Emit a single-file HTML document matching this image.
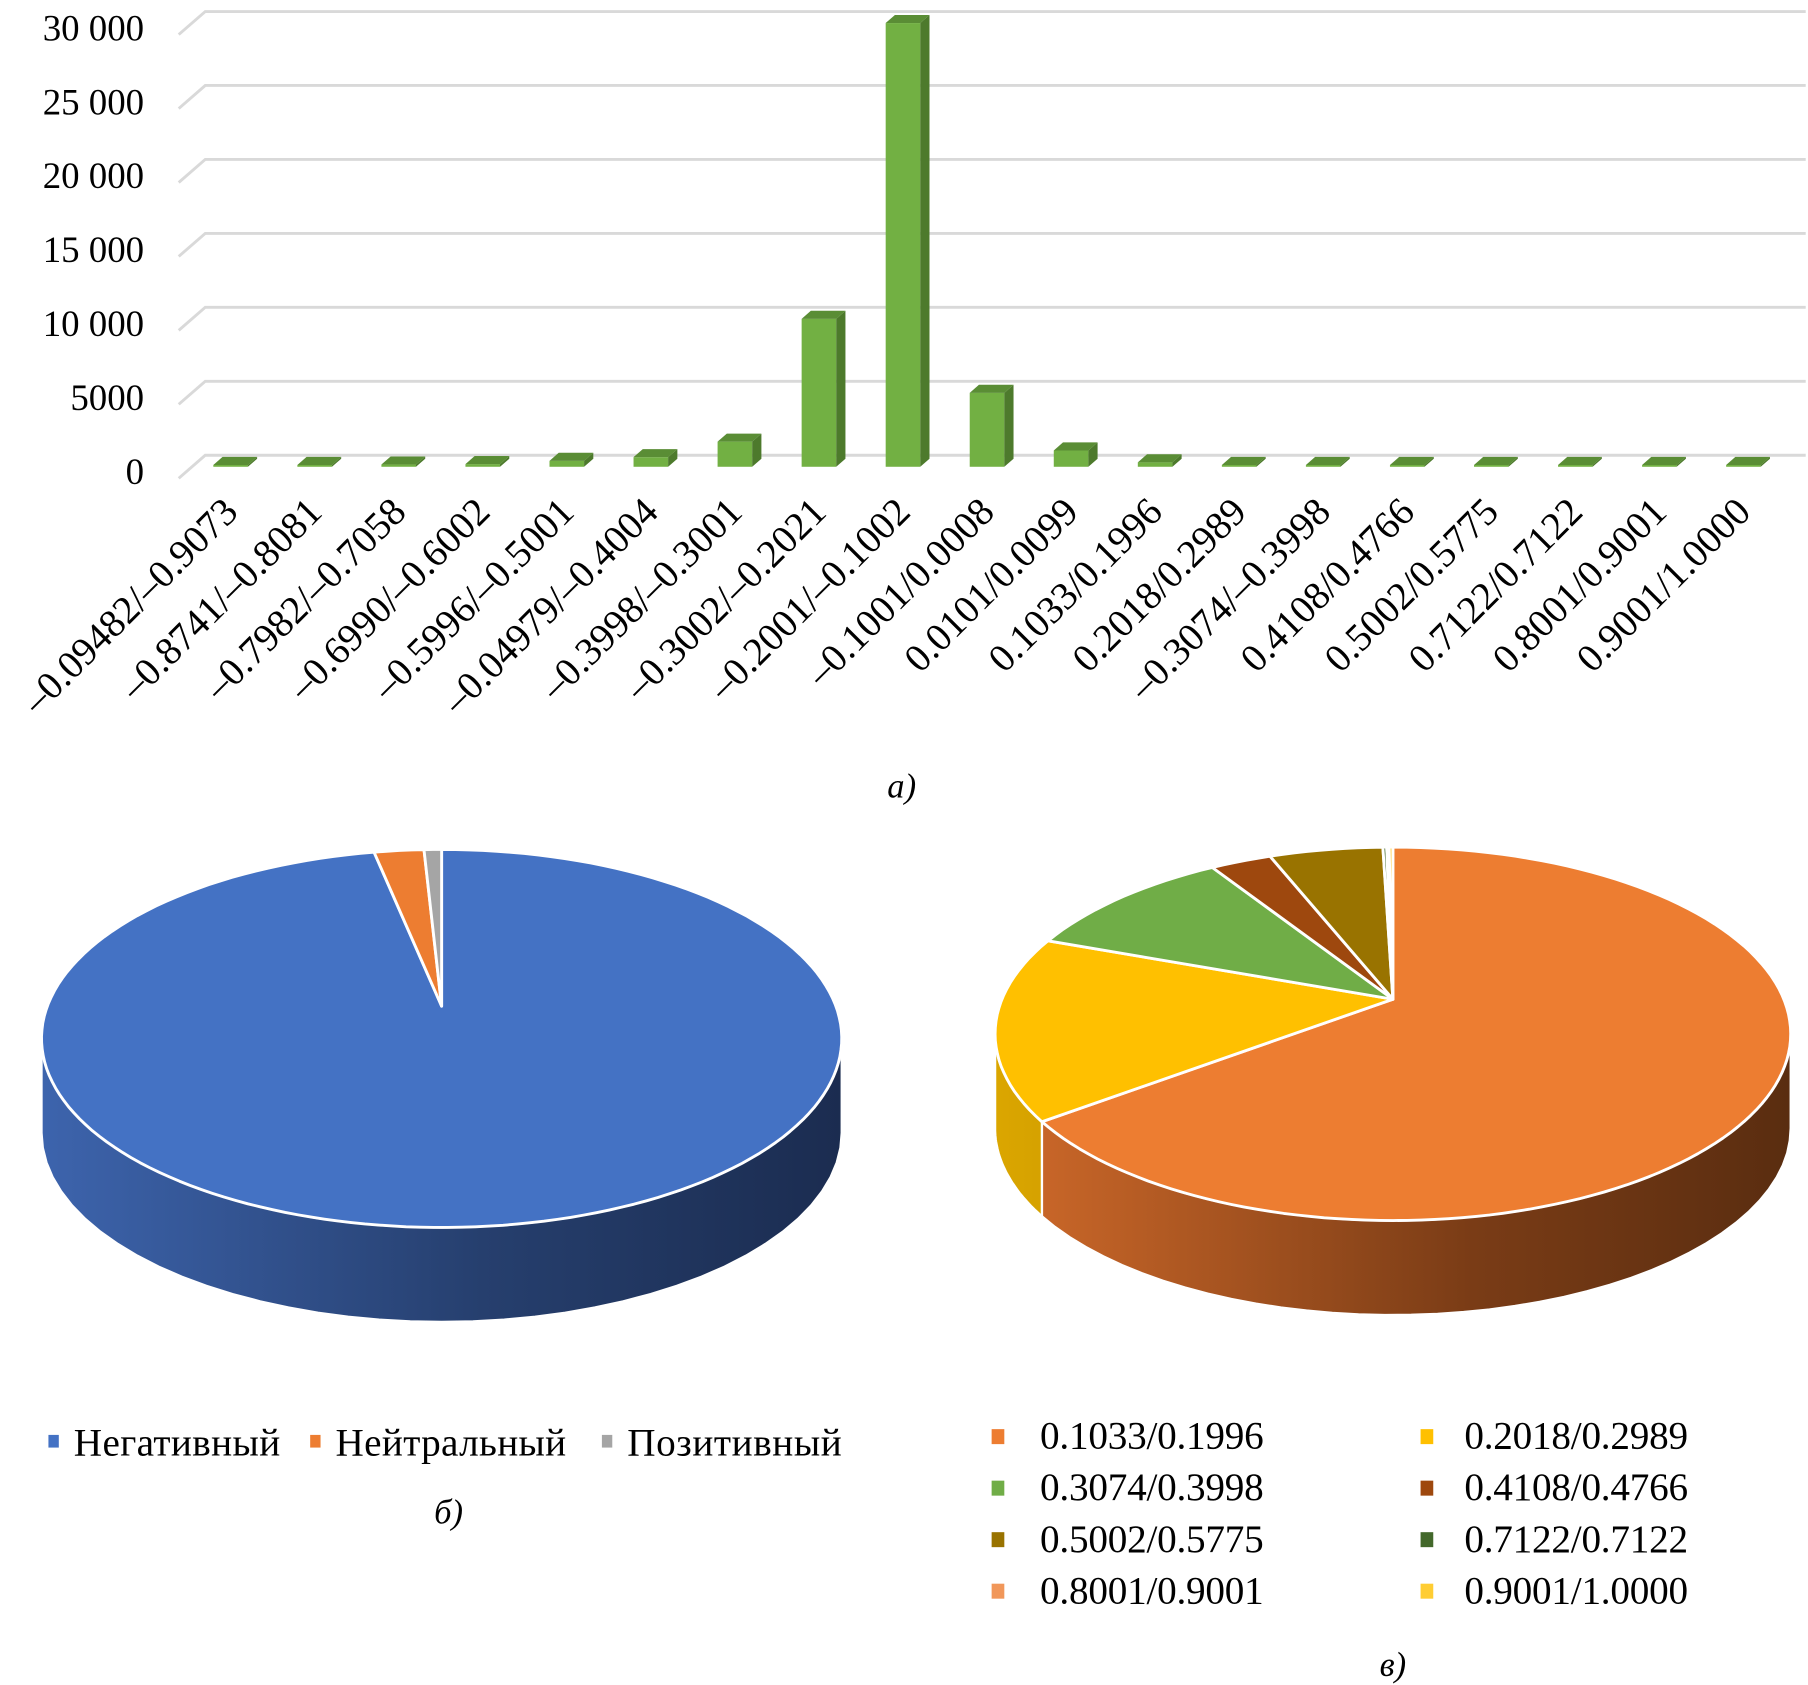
<!DOCTYPE html>
<html><head><meta charset="utf-8"><style>
html,body{margin:0;padding:0;background:#fff}
svg{display:block}
text{font-family:"Liberation Serif",serif;fill:#000}
</style></head><body>
<svg id="fig" width="1808" height="1685" viewBox="0 0 1568 1462" preserveAspectRatio="none" xmlns="http://www.w3.org/2000/svg">
<defs>
<linearGradient id="gBlue" gradientUnits="userSpaceOnUse" x1="36" y1="0" x2="731" y2="0"><stop offset="0" stop-color="#3d64ad"/><stop offset="0.55" stop-color="#263f6e"/><stop offset="1" stop-color="#1b2c50"/></linearGradient>
<linearGradient id="gOrange" gradientUnits="userSpaceOnUse" x1="863" y1="0" x2="1552" y2="0"><stop offset="0" stop-color="#d06a2a"/><stop offset="0.6" stop-color="#7a3c16"/><stop offset="1" stop-color="#5a2d10"/></linearGradient>
<linearGradient id="gYellow" gradientUnits="userSpaceOnUse" x1="863" y1="0" x2="1552" y2="0"><stop offset="0" stop-color="#dba600"/><stop offset="1" stop-color="#7a5e00"/></linearGradient>
</defs>
<g id="barChart"></g>
<text x="782" y="692" font-size="30" font-style="italic" text-anchor="middle">a)</text>
<g id="pieB"></g>
<g id="pieC"></g>
<g>
<rect x="42" y="1245" width="9" height="11" fill="#4472C4"/>
<text x="64" y="1263" font-size="34" textLength="179">Негативный</text>
<rect x="269" y="1245" width="9" height="11" fill="#ED7D31"/>
<text x="291" y="1263" font-size="34" textLength="200">Нейтральный</text>
<rect x="522" y="1245" width="9" height="11" fill="#A5A5A5"/>
<text x="544" y="1263" font-size="34" textLength="186">Позитивный</text>
</g>
<text x="389" y="1322" font-size="30" font-style="italic" text-anchor="middle">б)</text>
<g id="legendC"></g>
<text x="1208" y="1454" font-size="30" font-style="italic" text-anchor="middle">в)</text>
</svg>
<script>
const categories=["–0.09482/–0.9073","–0.8741/–0.8081","–0.7982/–0.7058","–0.6990/–0.6002","–0.5996/–0.5001","–0.04979/–0.4004","–0.3998/–0.3001","–0.3002/–0.2021","–0.2001/–0.1002","–0.1001/0.0008","0.0101/0.0099","0.1033/0.1996","0.2018/0.2989","–0.3074/–0.3998","0.4108/0.4766","0.5002/0.5775","0.7122/0.7122","0.8001/0.9001","0.9001/1.0000"];
const counts=[120,120,150,180,400,650,1700,10000,30000,5000,1100,300,120,120,120,120,120,120,120];
const yTicks=[0,5000,10000,15000,20000,25000,30000];
const yTickLabels=["0","5000","10 000","15 000","20 000","25 000","30 000"];
const pieBLabels=["Негативный","Нейтральный","Позитивный"];
const pieBValues=[97.3,2.0,0.7];
const pieBColors=["#4472C4","#ED7D31","#A5A5A5"];
const pieCLabels=["0.1033/0.1996","0.2018/0.2989","0.3074/0.3998","0.4108/0.4766","0.5002/0.5775","0.7122/0.7122","0.8001/0.9001","0.9001/1.0000"];
const pieCValues=[67.2,16.1,9.2,2.5,4.6,0.15,0.1,0.15];
const pieCColors=["#ED7D31","#FFC000","#70AD47","#9E480E","#997300","#43682B","#F1975A","#FFCD33"];

const NS="http://www.w3.org/2000/svg";
function mk(tag,attrs,parent){const e=document.createElementNS(NS,tag);for(const k in attrs)e.setAttribute(k,attrs[k]);parent.appendChild(e);return e;}

// ---- bar chart ----
const bc=document.getElementById('barChart');
const yMax=30000, backBase=395, backTop=10, frontBase=405;
const pxPer=(backBase-backTop)/yMax;
function yBack(v){return backBase-v*pxPer;}
function yFront(v){return frontBase-v*pxPer;}
const x0=200, x1=1512;
function xC(i){return x0+i*(x1-x0)/(categories.length-1);}
yTicks.forEach((t,i)=>{
  const y=yBack(t);
  const g=mk('path',{d:`M155 ${y+20} L178 ${y} L1566 ${y}`,stroke:'#d9d9d9','stroke-width':2.5,fill:'none'},bc);
  
  
  const tx=mk('text',{x:125,y:y+25,'font-size':32,'text-anchor':'end'},bc);
  tx.textContent=yTickLabels[i];
  
  
});
const bw=30, dx=8, dy=7;
categories.forEach((c,i)=>{
  const cx=xC(i), top=yFront(counts[i]), l=cx-bw/2, r=cx+bw/2;
  const g=mk('g',{},bc);
  
  
  mk('rect',{x:l,y:top,width:bw,height:frontBase-top,fill:'#72b043'},g);
  mk('path',{d:`M${r} ${top} L${r+dx} ${top-dy} L${r+dx} ${frontBase-dy} L${r} ${frontBase}Z`,fill:'#4d7a2c'},g);
  mk('path',{d:`M${l} ${top} L${l+dx} ${top-dy} L${r+dx} ${top-dy} L${r} ${top}Z`,fill:'#5a8d35'},g);
  const tx=mk('text',{x:0,y:0,'font-size':34,'text-anchor':'end',transform:`translate(${cx+8},${446}) rotate(-45)`},bc);
  tx.textContent=c;
  
  
});

// ---- pies ----
function drawPie(root,values,colors,cx,cy,rx,ry,depth,apexDy,sideFills,name){
  const total=values.reduce((a,b)=>a+b,0);
  const P=(th,yo)=>[cx+rx*Math.sin(th*Math.PI/180),cy-ry*Math.cos(th*Math.PI/180)+(yo||0)];
  let a=0; const slices=[];
  values.forEach((v,i)=>{const b=a+v/total*360;slices.push([a,b,i]);a=b;});
  slices.forEach(([s,e,i])=>{
    const lo=Math.max(s,90), hi=Math.min(e,270);
    if(hi<=lo) return;
    let d='';const n=40;
    for(let k=0;k<=n;k++){const p=P(lo+(hi-lo)*k/n);d+=(k?'L':'M')+p[0].toFixed(1)+' '+p[1].toFixed(1);}
    for(let k=n;k>=0;k--){const p=P(lo+(hi-lo)*k/n,depth);d+='L'+p[0].toFixed(1)+' '+p[1].toFixed(1);}
    const sd=mk('path',{d:d+'Z',fill:sideFills[i]||colors[i],stroke:'#fff','stroke-width':2},root);
    
    
  });
  const ax=cx, ay=cy-apexDy;
  slices.forEach(([s,e,i])=>{
    let d=`M${ax} ${ay}`;const n=Math.max(2,Math.ceil((e-s)/2));
    for(let k=0;k<=n;k++){const p=P(s+(e-s)*k/n);d+='L'+p[0].toFixed(1)+' '+p[1].toFixed(1);}
    const sl=mk('path',{d:d+'Z',fill:colors[i],stroke:'#fff','stroke-width':2.5,'stroke-linejoin':'round'},root);
    
    
  });
}
drawPie(document.getElementById('pieB'),pieBValues,pieBColors,383,901,347,164,82,28,['url(#gBlue)','#b85d20','#7a7a7a'],'sentiment-pie');
drawPie(document.getElementById('pieC'),pieCValues,pieCColors,1208,897,345,162,82,30,['url(#gOrange)','url(#gYellow)'],'score-pie');

// legend c
const lc=document.getElementById('legendC');
pieCLabels.forEach((l,i)=>{
  const col=i%2,row=Math.floor(i/2);
  const sx=col?1232:860, tx=col?1270:902, y=1246+row*44.7;
  const r=mk('rect',{x:sx,y:y-6,width:11,height:13,fill:pieCColors[i]},lc);
  
  
  const t=mk('text',{x:tx,y:y+11,'font-size':34,textLength:194},lc);
  t.textContent=l;
  
  
});
</script>
</body></html>
